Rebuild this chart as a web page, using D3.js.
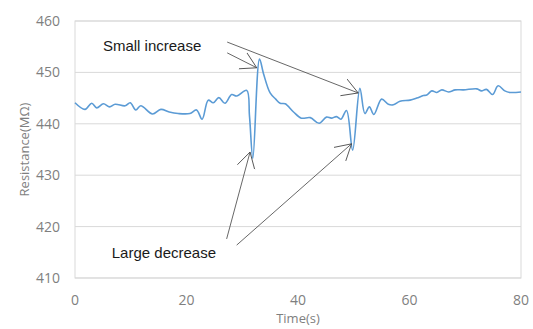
<!DOCTYPE html>
<html>
<head>
<meta charset="utf-8">
<script src="https://cdn.jsdelivr.net/npm/d3@7"></script>
<style>
body{margin:0;background:#fff;}
svg{display:block;}
.tick-label{font-family:"Open Sans",sans-serif;font-size:14px;fill:#7f7f7f;}
.axis-title{font-family:"Open Sans",sans-serif;font-size:13px;fill:#7f7f7f;}
.note{font-family:"Liberation Sans",Arial,sans-serif;font-size:15px;fill:#1a1a1a;}
</style>
</head>
<body>
<svg id="chart" width="533" height="329"></svg>
<script>
// time (s) and resistance (MΩ)
const times = [0,1.8,3.0,3.9,5.1,6.2,7.2,9.0,9.9,10.9,11.8,13.9,15.4,16.9,18.5,20.6,21.8,22.8,23.9,24.8,25.8,26.9,28.1,29.0,30.8,31.3,31.9,33.1,33.8,35.0,36.0,36.8,37.7,39.2,40.6,42.2,43.8,45.1,46.0,46.9,47.7,48.7,49.8,51.1,52.0,52.8,53.6,55.0,56.2,57.1,58.3,60.1,61.3,62.5,63.1,64.0,64.9,65.8,67.0,68.2,69.7,72.1,72.9,73.8,74.9,75.9,77.1,78.0,80];
const resistance = [444.1,442.8,444.0,443.1,443.9,443.3,443.8,443.5,444.1,442.7,443.5,441.9,442.8,442.3,442.0,442.0,442.7,440.9,444.6,444.1,445.1,444.0,445.7,445.4,446.5,441.5,433.3,452.6,449.8,446.0,444.8,444.0,443.9,442.3,441.1,441.2,440.1,441.3,441.1,441.4,440.9,442.6,434.9,446.9,442.0,443.3,441.8,444.8,443.8,443.7,444.4,444.6,445.0,445.5,445.6,446.4,446.1,446.6,446.2,446.6,446.6,446.8,446.4,446.7,445.7,447.4,446.4,446.1,446.2];
const xTicks = [0,20,40,60,80];
const yTicks = [410,420,430,440,450,460];

// annotations: label anchor and arrows [fromT, fromR, toT, toR]
const notes = [
	{text:"Small increase", t:5.0, r:454.2, arrows:[[27.3,453.8,32.6,450.9],[27.3,455.9,50.8,446.0]]},
	{text:"Large decrease", t:6.6, r:413.9, arrows:[[27.2,417.6,31.4,434.5],[29.0,416.4,49.6,436.1]]}
];

const W = 533, H = 329;
const margin = {top:21, right:12, bottom:51, left:75};
const svg = d3.select("#chart");
const x = d3.scaleLinear().domain([0,80]).range([margin.left, W-margin.right]);
const y = d3.scaleLinear().domain([410,460]).range([H-margin.bottom, margin.top]);

//网格线
svg.append("g")
	.selectAll("line")
	.data(yTicks)
	.enter()
	.append("line")
	.attr("x1",x(0)).attr("x2",x(80))
	.attr("y1",d=>y(d)).attr("y2",d=>y(d))
	.attr("stroke","#d9d9d9").attr("stroke-width",1);
svg.append("rect")
	.attr("x",x(0)).attr("y",y(460))
	.attr("width",x(80)-x(0)).attr("height",y(410)-y(460))
	.attr("fill","none").attr("stroke","#d9d9d9").attr("stroke-width",1);

//坐标轴刻度
svg.append("g")
	.selectAll("text")
	.data(yTicks)
	.enter()
	.append("text")
	.attr("class","tick-label")
	.attr("text-anchor","end")
	.attr("x",x(0)-15)
	.attr("y",d=>y(d))
	.attr("dy","0.35em")
	.text(d=>d);
svg.append("g")
	.selectAll("text")
	.data(xTicks)
	.enter()
	.append("text")
	.attr("class","tick-label")
	.attr("text-anchor","middle")
	.attr("x",d=>x(d))
	.attr("y",y(410)+27)
	.text(d=>d);

svg.append("text")
	.attr("class","axis-title")
	.attr("text-anchor","middle")
	.attr("x",(x(0)+x(80))/2)
	.attr("y",H-6)
	.text("Time(s)");
svg.append("text")
	.attr("class","axis-title")
	.attr("text-anchor","middle")
	.attr("transform",`translate(29,${(y(410)+y(460))/2}) rotate(-90)`)
	.text("Resistance(MΩ)");

//曲线
const pts = times.map((t,i)=>[t,resistance[i]]);
const line = d3.line()
	.x(d=>x(d[0]))
	.y(d=>y(d[1]))
	.curve(d3.curveCatmullRom.alpha(0.5));
svg.append("path")
	.datum(pts)
	.attr("d",line)
	.attr("fill","none")
	.attr("stroke","#5b9bd5")
	.attr("stroke-width",1.6)
	.attr("stroke-linejoin","round");

//箭头
svg.append("defs").append("marker")
	.attr("id","arrow")
	.attr("markerUnits","userSpaceOnUse")
	.attr("viewBox","0 0 18 20")
	.attr("refX",15.6).attr("refY",10)
	.attr("markerWidth",18).attr("markerHeight",20)
	.attr("orient","auto")
	.append("path")
	.attr("d","M0,1 L15.6,10 L0,19")
	.attr("fill","none")
	.attr("stroke","#404040")
	.attr("stroke-width",0.8);

notes.forEach(n=>{
	svg.append("text")
		.attr("class","note")
		.attr("x",x(n.t))
		.attr("y",y(n.r))
		.text(n.text);
	svg.append("g")
		.selectAll("line")
		.data(n.arrows)
		.enter()
		.append("line")
		.attr("x1",d=>x(d[0])).attr("y1",d=>y(d[1]))
		.attr("x2",d=>x(d[2])).attr("y2",d=>y(d[3]))
		.attr("stroke","#404040")
		.attr("stroke-width",0.8)
		.attr("marker-end","url(#arrow)");
});
</script>
</body>
</html>
